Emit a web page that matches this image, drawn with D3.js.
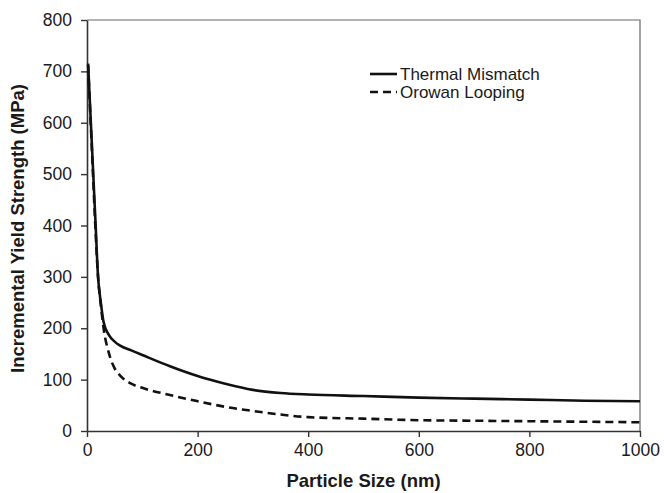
<!DOCTYPE html>
<html>
<head>
<meta charset="utf-8">
<script src="https://cdn.jsdelivr.net/npm/d3@7"></script>
<style>
  body { margin: 0; background: #fff; }
  #chart { width: 664px; height: 493px; }
  text { font-family: "Liberation Sans", Arial, sans-serif; fill: #1a1a1a; }
</style>
</head>
<body>
<div id="chart"></div>
<script>
// particle size (nm) sampled along the curves
const sizes = [2, 5, 10, 15, 20, 25, 30, 40, 50, 60, 80, 100, 150, 200, 250, 300, 350, 400, 500, 600, 700, 800, 900, 1000];
// incremental yield strength (MPa)
const thermalMismatch = [715, 645, 530, 415, 300, 250, 212, 186, 174, 166, 157, 148, 126, 107, 92, 80, 74, 71, 68, 65, 63, 61, 59, 58];
const orowanLooping = [712, 640, 520, 400, 300, 245, 200, 150, 122, 108, 92, 84, 70, 58, 47, 39, 32, 27, 24, 21, 20, 19, 18, 17];
const xTicks = [0, 200, 400, 600, 800, 1000];
const yTicks = [0, 100, 200, 300, 400, 500, 600, 700, 800];
const seriesNames = ["Thermal Mismatch", "Orowan Looping"];

const margin = {left: 87, right: 24, top: 20, bottom: 62};
const W = 664, H = 493;
const width = W - margin.left - margin.right;
const height = H - margin.top - margin.bottom;

const svg = d3.select("#chart").append("svg")
    .attr("width", W)
    .attr("height", H);

const g = svg.append("g")
    .attr("transform", `translate(${margin.left},${margin.top})`);

const xScale = d3.scaleLinear().domain([0, 1000]).range([0, width]);
const yScale = d3.scaleLinear().domain([0, 800]).range([height, 0]);

// frame on top and right
g.append("path")
    .attr("d", `M0,0H${width}V${height}`)
    .attr("fill", "none")
    .attr("stroke", "#666")
    .attr("stroke-width", 1.2);

// axes
const xAxis = g.append("g")
    .attr("transform", `translate(0,${height})`)
    .call(d3.axisBottom(xScale).tickValues(xTicks).tickFormat(d3.format("d"))
        .tickSize(6).tickPadding(7).tickSizeOuter(0));
const yAxis = g.append("g")
    .call(d3.axisLeft(yScale).tickValues(yTicks).tickFormat(d3.format("d"))
        .tickSize(6).tickPadding(9).tickSizeOuter(0));

[xAxis, yAxis].forEach(a => {
    a.select(".domain").attr("stroke", "#333").attr("stroke-width", 1.6);
    a.selectAll(".tick line").attr("stroke", "#333").attr("stroke-width", 1.4);
    a.selectAll(".tick text")
        .attr("font-family", "'Liberation Sans', Arial, sans-serif")
        .attr("font-size", 17.5)
        .attr("fill", "#1a1a1a");
});

// curves
const line = d3.line()
    .x((d, i) => xScale(sizes[i]))
    .y(d => yScale(d))
    .curve(d3.curveMonotoneX);

g.append("path")
    .datum(orowanLooping)
    .attr("fill", "none")
    .attr("stroke", "#111")
    .attr("stroke-width", 2.6)
    .attr("stroke-dasharray", "8,5")
    .attr("d", line);

g.append("path")
    .datum(thermalMismatch)
    .attr("fill", "none")
    .attr("stroke", "#111")
    .attr("stroke-width", 2.6)
    .attr("d", line);

// legend
const legend = svg.append("g").attr("transform", "translate(370,74)");
legend.append("line")
    .attr("x1", 0).attr("x2", 27).attr("y1", 0).attr("y2", 0)
    .attr("stroke", "#111").attr("stroke-width", 2.6);
legend.append("line")
    .attr("x1", 0).attr("x2", 27).attr("y1", 18).attr("y2", 18)
    .attr("stroke", "#111").attr("stroke-width", 2.6)
    .attr("stroke-dasharray", "8,5");
legend.selectAll("text.leg")
    .data(seriesNames)
    .join("text")
    .attr("class", "leg")
    .attr("x", 30)
    .attr("y", (d, i) => i * 18 + 6)
    .attr("font-size", 17)
    .text(d => d);

// axis titles
svg.append("text")
    .attr("x", margin.left + width / 2)
    .attr("y", 487)
    .attr("text-anchor", "middle")
    .attr("font-size", 18.5)
    .attr("font-weight", "bold")
    .text("Particle Size (nm)");

svg.append("text")
    .attr("transform", `translate(24,${margin.top + height / 2 + 3}) rotate(-90)`)
    .attr("text-anchor", "middle")
    .attr("font-size", 18.5)
    .attr("font-weight", "bold")
    .text("Incremental Yield Strength (MPa)");
</script>
</body>
</html>
